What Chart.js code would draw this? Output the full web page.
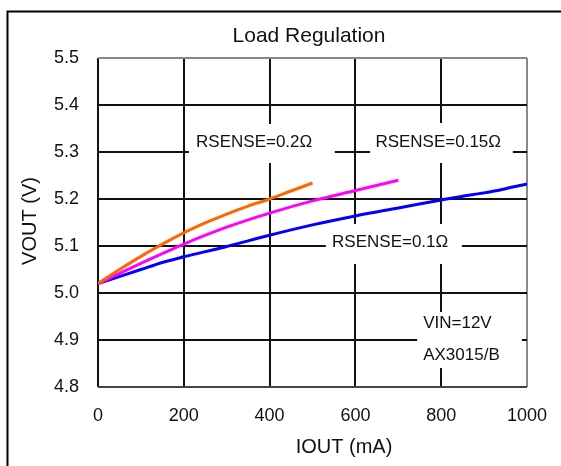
<!DOCTYPE html>
<html>
<head>
<meta charset="utf-8">
<script src="https://cdn.jsdelivr.net/npm/chart.js@4/dist/chart.umd.min.js"></script>
<style>
    html, body { margin: 0; padding: 0; background: #fff; }
    #wrap { width: 561px; height: 466px; position: relative; }
</style>
</head>
<body>
<div id="wrap"><canvas id="loadChart" width="561" height="466"></canvas></div>
<script>
// IOUT (mA) / VOUT (V)
const iout02 = [0, 50, 100, 150, 200, 250, 300, 350, 400, 450, 500];
const vout02 = [5.02, 5.05, 5.078, 5.104, 5.128, 5.149, 5.168, 5.185, 5.2, 5.217, 5.234];

const iout015 = [0, 100, 200, 300, 400, 500, 600, 700];
const vout015 = [5.02, 5.063, 5.104, 5.14, 5.17, 5.196, 5.218, 5.24];

const iout01 = [0, 100, 150, 200, 250, 300, 400, 500, 600, 700, 800, 850, 900, 950, 1000];
const vout01 = [5.02, 5.05, 5.065, 5.077, 5.088, 5.099, 5.123, 5.145, 5.164, 5.181, 5.198, 5.206, 5.213, 5.222, 5.232];

const xTicks = [0, 200, 400, 600, 800, 1000];
const yTicks = [4.8, 4.9, 5.0, 5.1, 5.2, 5.3, 5.4, 5.5];

const FONT = "'Liberation Sans', Arial, sans-serif";

function pts(xs, ys) {
    return xs.map((x, i) => ({ x: x, y: ys[i] }));
}

// text labels with white boxes, placed in data coordinates
const notes = [
    { box: [212, 552, 5.3596, 5.2766], lines: ["RSENSE=0.2\u03A9"], x: 364, y: [5.321], align: "center" },
    { box: [634, 967, 5.3617, 5.2766], lines: ["RSENSE=0.15\u03A9"], x: 793, y: [5.321], align: "center" },
    { box: [531, 848, 5.1468, 5.0617], lines: ["RSENSE=0.1\u03A9"], x: 681, y: [5.1085], align: "center" },
    { box: [744, 988, 4.9596, 4.8404], lines: ["VIN=12V", "AX3015/B"], x: 758, y: [4.9362, 4.8681], align: "left" }
];

const notesPlugin = {
    id: "notes",
    beforeDatasetsDraw(chart) {
        const ctx = chart.ctx;
        const xs = chart.scales.x, ys = chart.scales.y;
        ctx.save();
        notes.forEach(n => {
            const x1 = xs.getPixelForValue(n.box[0]);
            const x2 = xs.getPixelForValue(n.box[1]);
            const y1 = ys.getPixelForValue(n.box[2]);
            const y2 = ys.getPixelForValue(n.box[3]);
            ctx.fillStyle = "#fff";
            ctx.fillRect(x1, y1, x2 - x1, y2 - y1);
            ctx.fillStyle = "#111";
            ctx.font = "17px " + FONT;
            ctx.textAlign = n.align;
            ctx.textBaseline = "middle";
            n.lines.forEach((t, i) => {
                ctx.fillText(t, xs.getPixelForValue(n.x), ys.getPixelForValue(n.y[i]));
            });
        });
        ctx.restore();
    },
    afterDraw(chart) {
        const ctx = chart.ctx;
        ctx.save();
        // outer frame
        ctx.strokeStyle = "#000";
        ctx.lineWidth = 2;
        ctx.beginPath();
        ctx.moveTo(7.5, 466);
        ctx.lineTo(7.5, 11.5);
        ctx.lineTo(561, 11.5);
        ctx.stroke();
        // titles
        ctx.fillStyle = "#111";
        ctx.textAlign = "center";
        ctx.textBaseline = "middle";
        ctx.font = "21px " + FONT;
        ctx.fillText("Load Regulation", 309, 36);
        ctx.font = "20px " + FONT;
        ctx.fillText("IOUT (mA)", 344, 447);
        ctx.translate(30, 221);
        ctx.rotate(-Math.PI / 2);
        ctx.fillText("VOUT (V)", 0, 0);
        ctx.restore();
    }
};

new Chart("loadChart", {
    type: "line",
    data: {
        datasets: [
            { label: "RSENSE=0.2", data: pts(iout02, vout02), borderColor: "#FF6600" },
            { label: "RSENSE=0.15", data: pts(iout015, vout015), borderColor: "#FF00FF" },
            { label: "RSENSE=0.1", data: pts(iout01, vout01), borderColor: "#0000FF" }
        ]
    },
    options: {
        responsive: false,
        animation: false,
        devicePixelRatio: 1,
        layout: { padding: { left: 0, top: 58, right: 34, bottom: 0 } },
        elements: {
            line: { borderWidth: 3, cubicInterpolationMode: "monotone" },
            point: { radius: 0 }
        },
        plugins: { legend: { display: false }, tooltip: { enabled: false } },
        scales: {
            x: {
                type: "linear",
                min: 0,
                max: 1000,
                afterFit: s => { s.height = 79; s.paddingLeft = 0; s.paddingRight = 0; },
                afterBuildTicks: s => { s.ticks = xTicks.map(v => ({ value: v })); },
                border: { display: false },
                grid: {
                    drawTicks: false,
                    lineWidth: 2,
                    color: c => (c.tick && c.tick.value === 1000 ? "#888" : "#111")
                },
                ticks: {
                    padding: 18,
                    color: "#111",
                    font: { family: FONT, size: 18 },
                    callback: v => String(v)
                }
            },
            y: {
                type: "linear",
                min: 4.8,
                max: 5.5,
                afterFit: s => { s.width = 98; s.paddingTop = 0; s.paddingBottom = 0; },
                afterBuildTicks: s => { s.ticks = yTicks.map(v => ({ value: v })); },
                border: { display: false },
                grid: {
                    drawTicks: false,
                    lineWidth: 2,
                    color: c => {
                        if (!c.tick) return "#111";
                        if (c.tick.value === 5.5) return "#888";
                        if (c.tick.value === 4.8) return "#444";
                        return "#111";
                    }
                },
                ticks: {
                    padding: 19,
                    color: "#111",
                    font: { family: FONT, size: 18 },
                    callback: v => v.toFixed(1)
                }
            }
        }
    },
    plugins: [notesPlugin]
});
</script>
</body>
</html>
